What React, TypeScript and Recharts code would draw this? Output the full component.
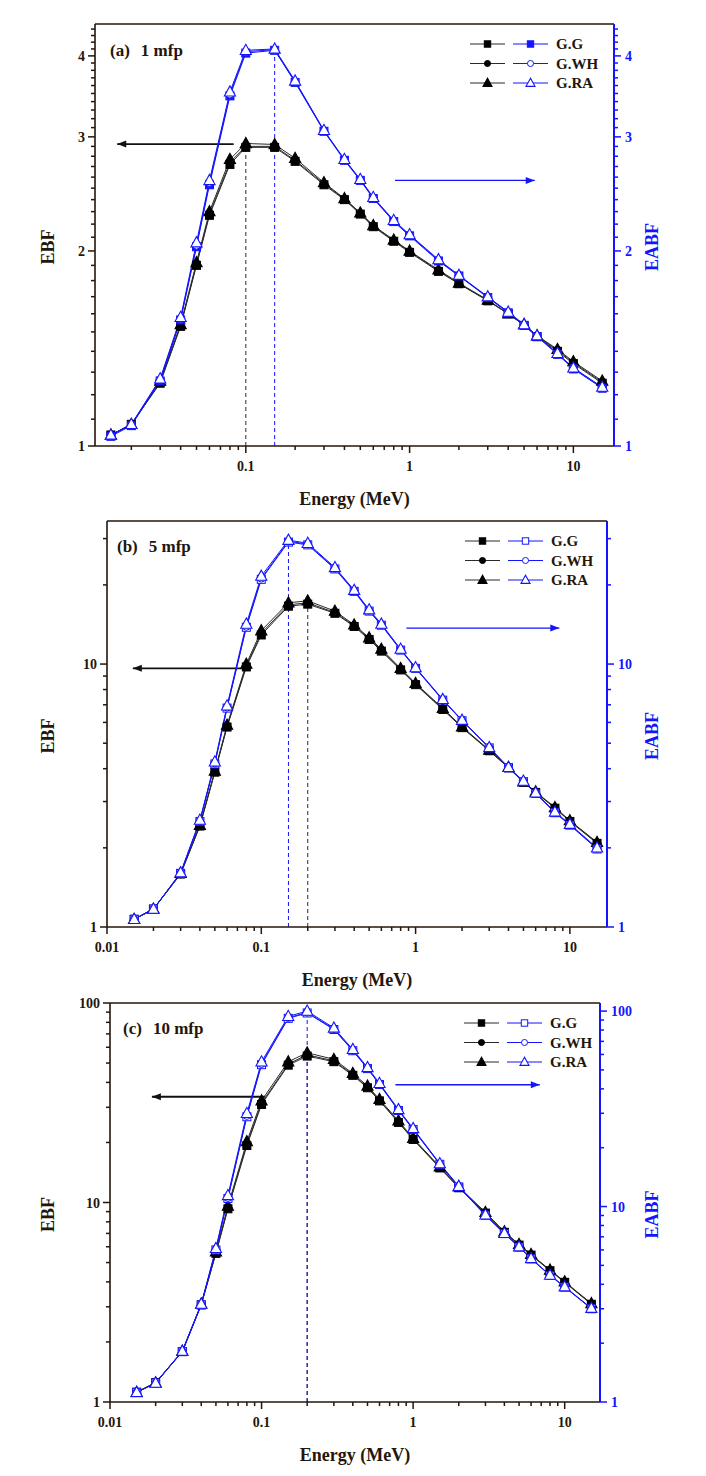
import {
  ComposedChart,
  Line,
  XAxis,
  YAxis,
  ReferenceLine,
  ReferenceDot,
  Legend,
} from 'recharts'

const FONT = '"Liberation Serif", "Times New Roman", serif'
const INK = '#24160b'
const BLUE = '#1414ff'
const LINE_BLACK = '#2b2b2b'

// photon energies (MeV), shared by all three panels
const ENERGY = [0.015, 0.02, 0.03, 0.04, 0.05, 0.06, 0.08, 0.1, 0.15, 0.2, 0.3, 0.4, 0.5, 0.6, 0.8, 1, 1.5, 2, 3, 4, 5, 6, 8, 10, 15]

// (a) 1 mfp
const A_EBF_GG = [1.04, 1.08, 1.25, 1.53, 1.9, 2.27, 2.72, 2.89, 2.89, 2.75, 2.53, 2.4, 2.28, 2.18, 2.07, 1.99, 1.86, 1.78, 1.675, 1.6, 1.535, 1.475, 1.4, 1.34, 1.25]
const A_EBF_WH = [1.04, 1.08, 1.255, 1.535, 1.91, 2.28, 2.74, 2.9, 2.9, 2.76, 2.54, 2.405, 2.285, 2.185, 2.075, 1.995, 1.865, 1.78, 1.678, 1.6, 1.538, 1.478, 1.405, 1.345, 1.255]
const A_EBF_RA = [1.04, 1.08, 1.26, 1.54, 1.92, 2.3, 2.77, 2.93, 2.92, 2.78, 2.55, 2.41, 2.29, 2.19, 2.08, 2.0, 1.87, 1.785, 1.68, 1.6, 1.54, 1.48, 1.41, 1.35, 1.26]
const A_EABF_GG = [1.035, 1.075, 1.26, 1.565, 2.03, 2.53, 3.47, 4.04, 4.08, 3.64, 3.06, 2.76, 2.57, 2.41, 2.22, 2.11, 1.93, 1.83, 1.695, 1.605, 1.535, 1.475, 1.385, 1.315, 1.228]
const A_EABF_WH = [1.038, 1.078, 1.265, 1.57, 2.04, 2.55, 3.49, 4.06, 4.09, 3.65, 3.065, 2.765, 2.575, 2.415, 2.225, 2.115, 1.935, 1.832, 1.698, 1.608, 1.538, 1.478, 1.388, 1.318, 1.23]
const A_EABF_RA = [1.04, 1.08, 1.27, 1.58, 2.06, 2.57, 3.52, 4.08, 4.1, 3.66, 3.07, 2.77, 2.58, 2.42, 2.23, 2.12, 1.94, 1.835, 1.7, 1.61, 1.54, 1.48, 1.39, 1.32, 1.233]

// (b) 5 mfp
const B_EBF_GG = [1.07, 1.17, 1.59, 2.42, 3.88, 5.76, 9.75, 12.9, 16.6, 16.9, 15.6, 13.9, 12.4, 11.2, 9.5, 8.35, 6.72, 5.73, 4.68, 4.03, 3.55, 3.25, 2.83, 2.52, 2.08]
const B_EBF_WH = [1.07, 1.17, 1.59, 2.43, 3.9, 5.8, 9.85, 13.1, 16.8, 17.1, 15.7, 14.0, 12.5, 11.3, 9.55, 8.4, 6.75, 5.75, 4.69, 4.04, 3.56, 3.26, 2.84, 2.53, 2.09]
const B_EBF_RA = [1.07, 1.17, 1.6, 2.44, 3.92, 5.86, 10.0, 13.4, 17.1, 17.4, 15.9, 14.1, 12.6, 11.4, 9.63, 8.45, 6.79, 5.78, 4.71, 4.05, 3.57, 3.27, 2.85, 2.54, 2.1]
const B_EABF_GG = [1.07, 1.17, 1.6, 2.52, 4.17, 6.8, 13.8, 21.0, 29.1, 28.4, 23.0, 18.9, 15.9, 14.05, 11.3, 9.63, 7.29, 6.09, 4.8, 4.03, 3.57, 3.22, 2.72, 2.44, 1.98]
const B_EABF_WH = [1.07, 1.17, 1.6, 2.53, 4.2, 6.85, 13.9, 21.2, 29.3, 28.6, 23.1, 19.0, 16.0, 14.1, 11.35, 9.66, 7.31, 6.1, 4.81, 4.04, 3.58, 3.23, 2.73, 2.45, 1.99]
const B_EABF_RA = [1.07, 1.17, 1.61, 2.55, 4.25, 6.94, 14.2, 21.6, 29.6, 28.8, 23.3, 19.1, 16.1, 14.2, 11.4, 9.7, 7.34, 6.12, 4.82, 4.05, 3.59, 3.24, 2.74, 2.46, 2.0]

// (c) 10 mfp
const C_EBF_GG = [1.12, 1.25, 1.79, 3.07, 5.56, 9.3, 19.3, 31.0, 48.8, 54.2, 50.8, 43.4, 37.6, 32.3, 25.2, 20.7, 14.9, 11.85, 8.85, 7.09, 6.12, 5.45, 4.55, 3.98, 3.09]
const C_EBF_WH = [1.12, 1.25, 1.79, 3.08, 5.6, 9.4, 19.6, 31.5, 49.5, 55.0, 51.3, 43.8, 37.9, 32.5, 25.4, 20.8, 15.0, 11.9, 8.88, 7.11, 6.14, 5.47, 4.57, 4.0, 3.1]
const C_EBF_RA = [1.12, 1.25, 1.8, 3.1, 5.67, 9.6, 20.2, 32.4, 50.8, 56.3, 52.2, 44.4, 38.4, 32.9, 25.7, 21.0, 15.1, 12.0, 8.93, 7.14, 6.17, 5.5, 4.59, 4.01, 3.12]
const C_EABF_GG = [1.12, 1.25, 1.81, 3.14, 6.0, 11.0, 28.8, 53.2, 91.8, 97.8, 80.5, 62.7, 50.8, 42.1, 31.0, 24.8, 16.45, 12.6, 9.02, 7.27, 6.2, 5.4, 4.44, 3.87, 3.0]
const C_EABF_WH = [1.12, 1.25, 1.81, 3.15, 6.03, 11.1, 29.2, 53.8, 92.5, 98.5, 81.0, 63.0, 51.0, 42.3, 31.1, 24.9, 16.5, 12.65, 9.04, 7.28, 6.21, 5.41, 4.45, 3.88, 3.01]
const C_EABF_RA = [1.12, 1.25, 1.82, 3.17, 6.11, 11.4, 30.0, 55.0, 94.0, 100, 82.0, 63.7, 51.5, 42.7, 31.4, 25.1, 16.6, 12.7, 9.07, 7.3, 6.23, 5.43, 4.46, 3.89, 3.02]

// axis ticks
const X_TICKS_A = [0.02, 0.03, 0.04, 0.05, 0.06, 0.07, 0.08, 0.09, 0.1, 0.2, 0.3, 0.4, 0.5, 0.6, 0.7, 0.8, 0.9, 1, 2, 3, 4, 5, 6, 7, 8, 9, 10]
const X_TICKS_BC = [0.01, ...X_TICKS_A]
const X_MAJOR = [0.01, 0.1, 1, 10]
const Y_TICKS_A = [1, 1.1, 1.2, 1.3, 1.4, 1.5, 1.6, 1.7, 1.8, 1.9, 2, 2.1, 2.2, 2.3, 2.4, 2.5, 2.6, 2.7, 2.8, 2.9, 3, 3.1, 3.2, 3.3, 3.4, 3.5, 3.6, 3.7, 3.8, 3.9, 4, 4.1, 4.2, 4.3, 4.4]
const Y_MAJOR_A = [1, 2, 3, 4]
const Y_TICKS_B = [1, 2, 3, 4, 5, 6, 7, 8, 9, 10, 20, 30]
const Y_TICKS_C = [1, 2, 3, 4, 5, 6, 7, 8, 9, 10, 20, 30, 40, 50, 60, 70, 80, 90, 100]
const Y_MAJOR_BC = [1, 10, 100]

const SERIES_NAMES = ['G.G', 'G.WH', 'G.RA']
const SHAPES = ['square', 'circle', 'triangle'] as const
type Shape = (typeof SHAPES)[number]

function drawShape(shape: Shape, cx: number, cy: number, color: string, filled: boolean, s = 1, key?: string | number) {
  const fill = filled ? color : '#fff'
  if (shape === 'square') {
    const h = 4 * s
    return <rect key={key} x={cx - h} y={cy - h} width={2 * h} height={2 * h} fill={fill} stroke={color} strokeWidth={1} />
  }
  if (shape === 'circle') {
    return <circle key={key} cx={cx} cy={cy} r={3.8 * s} fill={fill} stroke={color} strokeWidth={1} />
  }
  const pts = `${cx},${cy - 6 * s} ${cx - 5.6 * s},${cy + 4.2 * s} ${cx + 5.6 * s},${cy + 4.2 * s}`
  return <polygon key={key} points={pts} fill={fill} stroke={color} strokeWidth={1.1} strokeLinejoin="miter" />
}

const marker = (shape: Shape, color: string, filled: boolean) => (p: any) => {
  if (p.cx == null || p.cy == null) return <g key={p.index} />
  return drawShape(shape, p.cx, p.cy, color, filled, 1, p.index)
}

const tickText = { fontFamily: FONT, fontWeight: 700, fontSize: 14 }

const bottomTick = (majors: number[]) => (p: any) => {
  const v = p.payload.value
  const major = majors.includes(v)
  return (
    <g key={`x${v}`}>
      <line x1={p.x} y1={p.y} x2={p.x} y2={p.y + (major ? 7 : 4)} stroke={INK} strokeWidth={1.5} />
      {major && <text x={p.x} y={p.y + 25} textAnchor="middle" fill={INK} {...tickText}>{v}</text>}
    </g>
  )
}

const leftTick = (majors: number[]) => (p: any) => {
  const v = p.payload.value
  const major = majors.includes(v)
  return (
    <g key={`l${v}`}>
      <line x1={p.x} y1={p.y} x2={p.x - (major ? 7 : 4)} y2={p.y} stroke={INK} strokeWidth={1.5} />
      {major && <text x={p.x - 10} y={p.y + 5} textAnchor="end" fill={INK} {...tickText}>{v}</text>}
    </g>
  )
}

const rightTick = (majors: number[]) => (p: any) => {
  const v = p.payload.value
  const major = majors.includes(v)
  return (
    <g key={`r${v}`}>
      <line x1={p.x} y1={p.y} x2={p.x + (major ? 7 : 4)} y2={p.y} stroke={BLUE} strokeWidth={1.5} />
      {major && <text x={p.x + 11} y={p.y + 5} textAnchor="start" fill={BLUE} {...tickText}>{v}</text>}
    </g>
  )
}

const titleText = { fontFamily: FONT, fontWeight: 700, fontSize: 18 }

const xTitle = (p: any) => {
  const vb = p.viewBox
  return (
    <text x={vb.x + vb.width / 2} y={vb.y + 59} textAnchor="middle" fill={INK} {...titleText}>
      Energy (MeV)
    </text>
  )
}

const leftTitle = (p: any) => {
  const vb = p.viewBox
  const cy = vb.y + vb.height / 2 + 12
  return (
    <text x={54} y={cy} transform={`rotate(-90 54 ${cy})`} textAnchor="middle" fill={INK} {...titleText}>
      EBF
    </text>
  )
}

const rightTitle = (p: any) => {
  const vb = p.viewBox
  const cx = vb.x + vb.width - 48
  const cy = vb.y + vb.height / 2 + 12
  return (
    <text x={cx} y={cy} transform={`rotate(-90 ${cx} ${cy})`} textAnchor="middle" fill={BLUE} {...titleText}>
      EABF
    </text>
  )
}

function LegendBox({ openSquare }: { openSquare: boolean }) {
  return (
    <svg width={150} height={62} style={{ overflow: 'visible', display: 'block' }}>
      {SERIES_NAMES.map((name, i) => {
        const y = 10 + i * 19.5
        const shape = SHAPES[i]
        return (
          <g key={name}>
            <line x1={0} x2={35} y1={y} y2={y} stroke={LINE_BLACK} strokeWidth={1} />
            {drawShape(shape, 17.5, y, '#000', true, 0.8)}
            <line x1={43} x2={78} y1={y} y2={y} stroke={BLUE} strokeWidth={1} />
            {drawShape(shape, 60.5, y, BLUE, shape === 'square' && !openSquare, 0.8)}
            <text x={86} y={y + 5} fill={INK} fontFamily={FONT} fontWeight={700} fontSize={15}>
              {name}
            </text>
          </g>
        )
      })}
    </svg>
  )
}

const arrowHead = (dir: 'left' | 'right', color: string) => (p: any) => {
  const { cx, cy } = p
  const d = dir === 'left' ? 1 : -1
  return <polygon points={`${cx},${cy} ${cx + 9 * d},${cy - 3.5} ${cx + 9 * d},${cy + 3.5}`} fill={color} />
}

interface Arrow { x1: number; x2: number; y: number }
interface Dash { x: number; y: number; axis: 'l' | 'r'; color: string }

interface PanelSpec {
  tag: string
  title: string
  top: number
  height: number
  marginTop: number
  leftW: number
  rightW: number
  xH: number
  xDomain: [number, number]
  xTicks: number[]
  yDomainL: [number, number]
  yDomainR: [number, number]
  yTicksL: number[]
  yTicksR: number[]
  yMajor: number[]
  ebf: number[][]
  eabf: number[][]
  openSquare: boolean
  titleX: number
  titleY: number
  legendLeft: number
  legendTop: number
  arrowL: Arrow
  arrowR: Arrow
  dashes: Dash[]
}

const PANELS: PanelSpec[] = [
  {
    tag: '(a)', title: '1 mfp', top: 0, height: 515, marginTop: 24, leftW: 95, rightW: 92, xH: 69,
    xDomain: [0.012, 17.7], xTicks: X_TICKS_A,
    yDomainL: [1, 4.48], yDomainR: [1, 4.48], yTicksL: Y_TICKS_A, yTicksR: Y_TICKS_A, yMajor: Y_MAJOR_A,
    ebf: [A_EBF_GG, A_EBF_WH, A_EBF_RA], eabf: [A_EABF_GG, A_EABF_WH, A_EABF_RA], openSquare: false,
    titleX: 110, titleY: 56, legendLeft: 470, legendTop: 34,
    arrowL: { x1: 0.0164, x2: 0.0843, y: 2.924 }, arrowR: { x1: 0.815, x2: 5.81, y: 2.57 },
    dashes: [{ x: 0.1, y: 2.9, axis: 'l', color: LINE_BLACK }, { x: 0.15, y: 4.1, axis: 'r', color: BLUE }],
  },
  {
    tag: '(b)', title: '5 mfp', top: 515, height: 480, marginTop: 6, leftW: 107, rightW: 99, xH: 68,
    xDomain: [0.01, 17.4], xTicks: X_TICKS_BC,
    yDomainL: [1, 35], yDomainR: [1, 35], yTicksL: Y_TICKS_B, yTicksR: Y_TICKS_B, yMajor: Y_MAJOR_BC,
    ebf: [B_EBF_GG, B_EBF_WH, B_EBF_RA], eabf: [B_EABF_GG, B_EABF_WH, B_EABF_RA], openSquare: true,
    titleX: 117, titleY: 37, legendLeft: 465, legendTop: 16,
    arrowL: { x1: 0.0147, x2: 0.0815, y: 9.63 }, arrowR: { x1: 0.872, x2: 8.54, y: 13.7 },
    dashes: [{ x: 0.15, y: 29.6, axis: 'r', color: BLUE }, { x: 0.2, y: 17.4, axis: 'l', color: LINE_BLACK }],
  },
  {
    tag: '(c)', title: '10 mfp', top: 995, height: 481, marginTop: 8, leftW: 110, rightW: 106, xH: 74,
    xDomain: [0.01, 17.1], xTicks: X_TICKS_BC,
    yDomainL: [1, 100], yDomainR: [1, 110], yTicksL: Y_TICKS_C, yTicksR: Y_TICKS_C, yMajor: Y_MAJOR_BC,
    ebf: [C_EBF_GG, C_EBF_WH, C_EBF_RA], eabf: [C_EABF_GG, C_EABF_WH, C_EABF_RA], openSquare: true,
    titleX: 123, titleY: 39, legendLeft: 464, legendTop: 18,
    arrowL: { x1: 0.0189, x2: 0.106, y: 33.9 }, arrowR: { x1: 0.764, x2: 6.85, y: 42.0 },
    dashes: [{ x: 0.2, y: 56.3, axis: 'l', color: LINE_BLACK }, { x: 0.2, y: 100, axis: 'r', color: BLUE }],
  },
]

function Panel({ spec }: { spec: PanelSpec }) {
  const data = ENERGY.map((e, i) => ({
    e,
    ebfGG: spec.ebf[0][i],
    ebfWH: spec.ebf[1][i],
    ebfRA: spec.ebf[2][i],
    eabfGG: spec.eabf[0][i],
    eabfWH: spec.eabf[1][i],
    eabfRA: spec.eabf[2][i],
  }))

  return (
    <div style={{ position: 'absolute', left: 0, top: spec.top }}>
      <ComposedChart
        width={706}
        height={spec.height}
        data={data}
        margin={{ top: spec.marginTop, right: 0, bottom: 0, left: 0 }}
      >
        <XAxis
          dataKey="e"
          type="number"
          scale="log"
          domain={spec.xDomain}
          allowDataOverflow
          ticks={spec.xTicks}
          interval={0}
          height={spec.xH}
          tickSize={0}
          tickMargin={0}
          tickLine={false}
          tick={bottomTick(X_MAJOR)}
          axisLine={{ stroke: INK, strokeWidth: 1.6 }}
          label={xTitle}
        />
        <YAxis
          yAxisId="l"
          type="number"
          scale="log"
          domain={spec.yDomainL}
          allowDataOverflow
          ticks={spec.yTicksL}
          interval={0}
          width={spec.leftW}
          tickSize={0}
          tickMargin={0}
          tickLine={false}
          tick={leftTick(spec.yMajor)}
          axisLine={{ stroke: INK, strokeWidth: 1.6 }}
          label={leftTitle}
        />
        <YAxis
          yAxisId="r"
          orientation="right"
          type="number"
          scale="log"
          domain={spec.yDomainR}
          allowDataOverflow
          ticks={spec.yTicksR}
          interval={0}
          width={spec.rightW}
          tickSize={0}
          tickMargin={0}
          tickLine={false}
          tick={rightTick(spec.yMajor)}
          axisLine={{ stroke: BLUE, strokeWidth: 2 }}
          label={rightTitle}
        />

        {/* frame top edge */}
        <ReferenceLine yAxisId="l" y={spec.yDomainL[1]} stroke={INK} strokeWidth={1.6} ifOverflow="visible" />

        {spec.dashes.map((d, i) => (
          <ReferenceLine
            key={`d${i}`}
            yAxisId={d.axis}
            segment={[{ x: d.x, y: d.axis === 'l' ? spec.yDomainL[0] : spec.yDomainR[0] }, { x: d.x, y: d.y }]}
            stroke={d.color}
            strokeWidth={1}
            strokeDasharray="4 3"
            ifOverflow="visible"
          />
        ))}

        {/* arrows pointing to each axis */}
        <ReferenceLine
          yAxisId="l"
          segment={[{ x: spec.arrowL.x1, y: spec.arrowL.y }, { x: spec.arrowL.x2, y: spec.arrowL.y }]}
          stroke="#111"
          strokeWidth={1.8}
          ifOverflow="visible"
        />
        <ReferenceDot yAxisId="l" x={spec.arrowL.x1} y={spec.arrowL.y} r={1} shape={arrowHead('left', '#111')} ifOverflow="visible" />
        <ReferenceLine
          yAxisId="r"
          segment={[{ x: spec.arrowR.x1, y: spec.arrowR.y }, { x: spec.arrowR.x2, y: spec.arrowR.y }]}
          stroke={BLUE}
          strokeWidth={1.4}
          ifOverflow="visible"
        />
        <ReferenceDot yAxisId="r" x={spec.arrowR.x2} y={spec.arrowR.y} r={1} shape={arrowHead('right', BLUE)} ifOverflow="visible" />

        <Line yAxisId="l" dataKey="ebfGG" type="linear" stroke={LINE_BLACK} strokeWidth={1} dot={marker('square', '#000', true)} activeDot={false} isAnimationActive={false} />
        <Line yAxisId="l" dataKey="ebfWH" type="linear" stroke={LINE_BLACK} strokeWidth={1} dot={marker('circle', '#000', true)} activeDot={false} isAnimationActive={false} />
        <Line yAxisId="l" dataKey="ebfRA" type="linear" stroke={LINE_BLACK} strokeWidth={1} dot={marker('triangle', '#000', true)} activeDot={false} isAnimationActive={false} />
        <Line yAxisId="r" dataKey="eabfGG" type="linear" stroke={BLUE} strokeWidth={1} dot={marker('square', BLUE, !spec.openSquare)} activeDot={false} isAnimationActive={false} />
        <Line yAxisId="r" dataKey="eabfWH" type="linear" stroke={BLUE} strokeWidth={1} dot={marker('circle', BLUE, false)} activeDot={false} isAnimationActive={false} />
        <Line yAxisId="r" dataKey="eabfRA" type="linear" stroke={BLUE} strokeWidth={1} dot={marker('triangle', BLUE, false)} activeDot={false} isAnimationActive={false} />

        <Legend
          layout="vertical"
          align="center"
          verticalAlign="middle"
          wrapperStyle={{ left: spec.legendLeft, top: spec.legendTop, width: 150, height: 62, right: 'auto', bottom: 'auto' }}
          content={() => <LegendBox openSquare={spec.openSquare} />}
        />

        <text x={spec.titleX} y={spec.titleY} fill={INK} fontFamily={FONT} fontWeight={700} fontSize={17}>
          {spec.tag}
          <tspan dx={11}>{spec.title}</tspan>
        </text>
      </ComposedChart>
    </div>
  )
}

export default function App() {
  return (
    <div style={{ position: 'absolute', left: 0, top: 0, width: 706, height: 1476, background: '#fff' }}>
      {PANELS.map((p) => (
        <Panel key={p.tag} spec={p} />
      ))}
    </div>
  )
}
